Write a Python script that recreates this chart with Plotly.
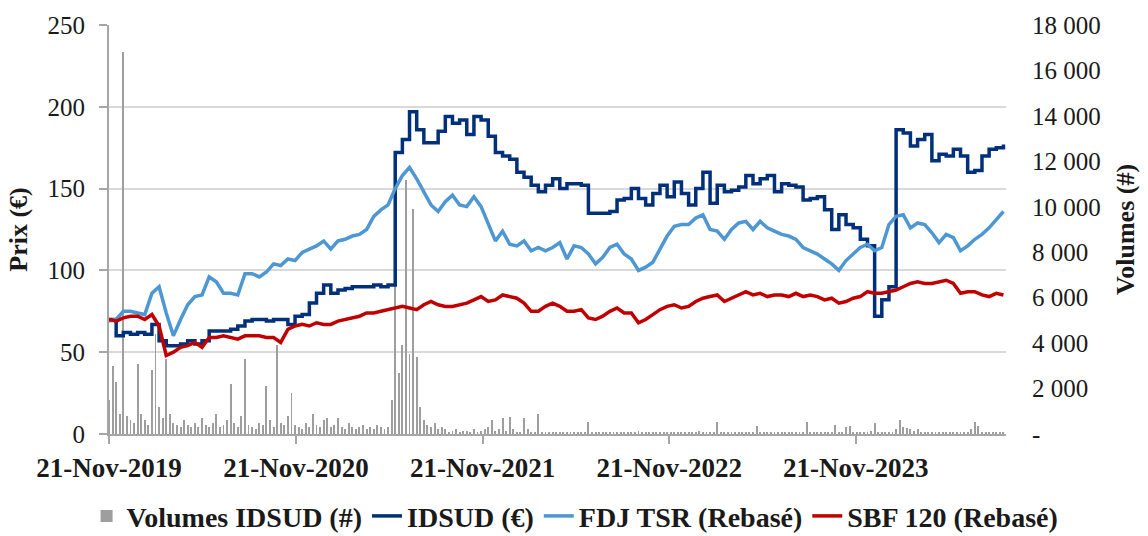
import pandas as pd
import plotly.graph_objects as go

# ---------------- data ----------------
price_dates = pd.date_range("2019-11-21", periods=126, freq="14D")
vol_dates = pd.date_range("2019-11-21", periods=251, freq="7D")

idsud = [
    70, 60, 62, 61, 62, 61, 67, 57, 54, 54,
    55, 57, 55, 57, 63, 63, 63, 64, 66, 69,
    70, 70, 69, 70, 70, 67, 72, 73, 80, 86,
    91, 86, 88, 89, 90, 90, 90, 91, 90, 91,
    172, 180, 197, 186, 178, 178, 185, 194, 190, 192,
    183, 194, 192, 182, 172, 170, 168, 160, 157, 152,
    148, 152, 156, 150, 153, 153, 152, 135, 135, 135,
    136, 143, 144, 150, 144, 140, 147, 152, 145, 154,
    147, 140, 150, 160, 141, 152, 148, 149, 151, 158,
    153, 156, 158, 148, 153, 152, 151, 143, 144, 145,
    137, 125, 134, 128, 126, 119, 115, 72, 82, 90,
    186, 184, 176, 180, 183, 167, 171, 170, 174, 170,
    160, 161, 170, 174, 175, 177,
]

fdj = [
    69, 70, 75, 75, 74, 73, 86, 90, 74, 60,
    70, 79, 84, 85, 96, 93, 86, 86, 85, 98,
    98, 96, 99, 104, 103, 107, 106, 111, 113, 115,
    118, 113, 118, 119, 121, 122, 125, 133, 137, 140,
    150, 158, 163, 156, 148, 140, 136, 142, 146, 140,
    139, 145, 139, 128, 118, 124, 116, 115, 118, 112,
    114, 112, 114, 117, 107, 115, 114, 110, 104, 108,
    114, 116, 110, 107, 100, 102, 105, 113, 121, 127,
    128, 128, 132, 134, 125, 124, 119, 125, 129, 130,
    125, 130, 126, 124, 122, 121, 119, 114, 112, 110,
    107, 104, 100, 106, 110, 114, 116, 112, 114, 128,
    133, 134, 126, 129, 128, 123, 117, 122, 120, 112,
    115, 119, 122, 126, 131, 136,
]

sbf = [
    70, 69, 71, 72, 72, 70, 73, 66, 48, 50,
    53, 54, 56, 53, 59, 59, 60, 59, 58, 60,
    60, 60, 59, 59, 56, 64, 66, 67, 66, 68,
    67, 67, 69, 70, 71, 72, 74, 74, 75, 76,
    77, 78, 77, 76, 79, 81, 79, 78, 78, 79,
    80, 82, 84, 81, 82, 85, 84, 83, 80, 75,
    75, 78, 80, 78, 75, 75, 76, 71, 70, 72,
    75, 77, 74, 74, 68, 70, 73, 76, 78, 79,
    77, 78, 81, 83, 84, 85, 81, 83, 85, 87,
    85, 86, 84, 85, 85, 84, 86, 84, 85, 84,
    82, 83, 80, 81, 83, 84, 87, 86, 86, 87,
    88, 90, 92, 93, 92, 92, 93, 94, 92, 86,
    87, 87, 85, 84, 86, 85,
]

volumes = [
    1500, 3000, 2300, 900, 16800, 800, 600, 500, 3100, 900,
    600, 400, 2800, 4400, 1200, 700, 3300, 900, 500, 400,
    300, 600, 400, 300, 500, 300, 700, 400, 300, 500,
    900, 300, 400, 600, 2200, 500, 300, 800, 3300, 400,
    300, 200, 500, 400, 2100, 600, 300, 3900, 500, 400,
    800, 1800, 400, 300, 200, 500, 300, 900, 400, 300,
    600, 700, 300, 400, 700, 300, 200, 500, 300, 200,
    300, 400, 200, 300, 200, 400, 300, 200, 300, 1500,
    6600, 2700, 3900, 11200, 3500, 9900, 3400, 1200, 600, 400,
    300, 500, 200, 300, 200, 100, 150, 200, 100, 150,
    150, 100, 200, 100, 150, 200, 300, 600, 150, 200,
    700, 150, 750, 200, 100, 100, 700, 200, 100, 100,
    900, 100, 50, 50, 100, 50, 50, 100, 50, 50,
    50, 50, 100, 50, 550, 50, 80, 60, 100, 50,
    80, 50, 60, 100, 50, 70, 50, 80, 150, 60,
    50, 80, 60, 50, 100, 50, 60, 80, 50, 60,
    100, 50, 80, 60, 50, 120, 60, 50, 80, 60,
    550, 80, 60, 50, 100, 60, 50, 80, 60, 50,
    100, 350, 80, 60, 50, 100, 60, 80, 50, 60,
    80, 60, 100, 50, 60, 520, 80, 60, 50, 100,
    60, 80, 100, 380, 100, 80, 300, 350, 80, 60,
    100, 80, 60, 120, 480, 100, 80, 60, 100, 80,
    200, 620, 300, 250, 200, 150, 200, 80, 100, 60,
    80, 60, 100, 50, 80, 60, 100, 80, 60, 100,
    80, 200, 550, 350, 80, 60, 100, 80, 60, 80,
    60,
]

x_tick_dates = ["2019-11-21", "2020-11-21", "2021-11-21", "2022-11-21", "2023-11-21"]
x_tick_labels = ["21-Nov-2019", "21-Nov-2020", "21-Nov-2021", "21-Nov-2022", "21-Nov-2023"]
price_ticks = [0, 50, 100, 150, 200, 250]
vol_ticks = [0, 2000, 4000, 6000, 8000, 10000, 12000, 14000, 16000, 18000]
vol_tick_labels = ["-", "2 000", "4 000", "6 000", "8 000", "10 000", "12 000",
                   "14 000", "16 000", "18 000"]

# ---------------- figure ----------------
FONT = "Liberation Serif"
GRID = "#d9d9d9"
AXIS = "#a6a6a6"
TXT = "#1a1a1a"

fig = go.Figure()
fig.add_trace(go.Bar(
    x=vol_dates, y=volumes, name="Volumes IDSUD (#)", yaxis="y",
    marker=dict(color="#9e9e9e", line=dict(width=0)),
    width=1.8 * 86400000,
))
fig.add_trace(go.Scatter(
    x=price_dates, y=idsud, name="IDSUD (€)", yaxis="y2", mode="lines",
    line=dict(color="#00307A", width=3.5, shape="hv"),
))
fig.add_trace(go.Scatter(
    x=price_dates, y=fdj, name="FDJ TSR (Rebasé)", yaxis="y2", mode="lines",
    line=dict(color="#4D97D3", width=3.5),
))
fig.add_trace(go.Scatter(
    x=price_dates, y=sbf, name="SBF 120 (Rebasé)", yaxis="y2", mode="lines",
    line=dict(color="#C00000", width=3.5),
))

fig.update_layout(
    width=1148, height=536,
    margin=dict(l=109, r=142, t=25, b=102, autoexpand=False),
    paper_bgcolor="white", plot_bgcolor="white",
    font=dict(family=FONT, size=25, color=TXT),
    bargap=0,
    showlegend=True,
    legend=dict(
        orientation="h", x=-0.025, xanchor="left", y=-0.201, yanchor="middle",
        font=dict(family=FONT, size=28, weight="bold", color=TXT),
        itemwidth=30, tracegroupgap=0, bgcolor="rgba(0,0,0,0)",
    ),
    xaxis=dict(
        type="date", range=["2019-11-21", "2024-09-10"],
        tickvals=x_tick_dates, ticktext=x_tick_labels,
        tickfont=dict(family=FONT, size=27, weight="bold", color=TXT),
        ticks="outside", ticklen=8, tickwidth=2, tickcolor=AXIS,
        showline=True, linecolor=AXIS, linewidth=2,
        showgrid=False, zeroline=False, ticklabelstandoff=1,
    ),
    yaxis=dict(
        side="right", range=[0, 18000],
        tickvals=vol_ticks, ticktext=vol_tick_labels,
        tickfont=dict(family=FONT, size=25, color=TXT),
        showgrid=False, zeroline=False, showline=False, ticks="",
        ticklabelstandoff=25,
        title=dict(text="Volumes (#)", standoff=16,
                   font=dict(family=FONT, size=26, weight="bold", color=TXT)),
    ),
    yaxis2=dict(
        overlaying="y", side="left", range=[0, 250],
        tickvals=price_ticks,
        tickfont=dict(family=FONT, size=25, color=TXT),
        showgrid=True, gridcolor=GRID, gridwidth=2,
        zeroline=False, showline=True, linecolor=AXIS, linewidth=2,
        ticks="outside", ticklen=8, tickwidth=2, tickcolor=AXIS,
        ticklabelstandoff=9,
        title=dict(text="Prix (€)", standoff=12,
                   font=dict(family=FONT, size=26, weight="bold", color=TXT)),
    ),
)

fig.write_html("out.html", config={"displayModeBar": False},
               post_script="document.body.style.margin='0px';")
